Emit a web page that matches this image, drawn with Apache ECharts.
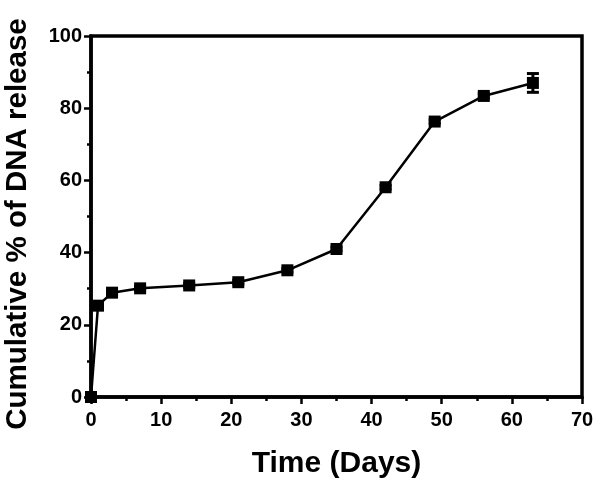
<!DOCTYPE html>
<html>
<head>
<meta charset="utf-8">
<script src="https://cdn.jsdelivr.net/npm/echarts@6/dist/echarts.min.js"></script>
<style>html,body{margin:0;padding:0;background:#fff}#c{width:606px;height:488px}</style>
</head>
<body>
<div id="c"></div>
<script>
var days = [0, 1, 3, 7, 14, 21, 28, 35, 42, 49, 56, 63];
var release = [0, 25.3, 28.9, 30.1, 30.9, 31.8, 35.1, 41.0, 58.1, 76.3, 83.4, 87.0];
var errors = [0, 0.5, 0.5, 0.5, 0.5, 0.5, 0.5, 0.5, 0.5, 0.5, 0.6, 2.6];
var xTitle = 'Time (Days)';
var yTitle = 'Cumulative % of DNA release';

var chart = echarts.init(document.getElementById('c'), null, {renderer: 'canvas'});
var pts = days.map(function (d, i) { return [d, release[i]]; });
var errData = days.map(function (d, i) { return [d, release[i] - errors[i], release[i] + errors[i]]; });
var font = 'Liberation Sans, Arial, sans-serif';
chart.setOption({
  animation: false,
  grid: {left: 91, right: 24, top: 36, bottom: 91, containLabel: false, outerBoundsMode: 'none',
    show: true, borderColor: '#000', borderWidth: 3.5, backgroundColor: 'transparent'},
  xAxis: {
    type: 'value', min: 0, max: 70, interval: 10,
    name: xTitle, nameLocation: 'middle', nameGap: 52,
    nameTextStyle: {fontSize: 30, fontWeight: 'bold', color: '#000', fontFamily: font},
    axisLine: {show: true, lineStyle: {color: '#000', width: 3.5}},
    axisTick: {show: true, length: 7, lineStyle: {color: '#000', width: 2.5}},
    minorTick: {show: true, splitNumber: 2, length: 4, lineStyle: {color: '#000', width: 2.5}},
    axisLabel: {fontSize: 20, fontWeight: 'bold', color: '#000', fontFamily: font, margin: 13},
    splitLine: {show: false}
  },
  yAxis: {
    type: 'value', min: 0, max: 100, interval: 20,
    name: yTitle, nameLocation: 'middle', nameGap: 58, nameRotate: 90,
    nameTextStyle: {fontSize: 29.5, fontWeight: 'bold', color: '#000', fontFamily: font, padding: [0, 15, 0, 0]},
    axisLine: {show: true, lineStyle: {color: '#000', width: 3.5}},
    axisTick: {show: true, length: 7, lineStyle: {color: '#000', width: 2.5}},
    minorTick: {show: true, splitNumber: 2, length: 4, lineStyle: {color: '#000', width: 2.5}},
    axisLabel: {fontSize: 20, fontWeight: 'bold', color: '#000', fontFamily: font, margin: 9},
    splitLine: {show: false}
  },
  series: [
    {
      type: 'custom',
      data: errData,
      z: 3,
      renderItem: function (params, api) {
        var x = api.value(0);
        var lo = api.coord([x, api.value(1)]);
        var hi = api.coord([x, api.value(2)]);
        var w = 6;
        var st = {stroke: '#000', lineWidth: 3};
        return {type: 'group', children: [
          {type: 'line', shape: {x1: lo[0], y1: lo[1], x2: hi[0], y2: hi[1]}, style: st},
          {type: 'line', shape: {x1: lo[0] - w, y1: lo[1], x2: lo[0] + w, y2: lo[1]}, style: st},
          {type: 'line', shape: {x1: hi[0] - w, y1: hi[1], x2: hi[0] + w, y2: hi[1]}, style: st}
        ]};
      }
    },
    {
      type: 'line',
      data: pts,
      z: 4,
      symbol: 'rect',
      symbolSize: 12,
      showAllSymbol: true,
      lineStyle: {color: '#000', width: 2.5},
      itemStyle: {color: '#000', borderWidth: 0}
    }
  ]
});
</script>
</body>
</html>
